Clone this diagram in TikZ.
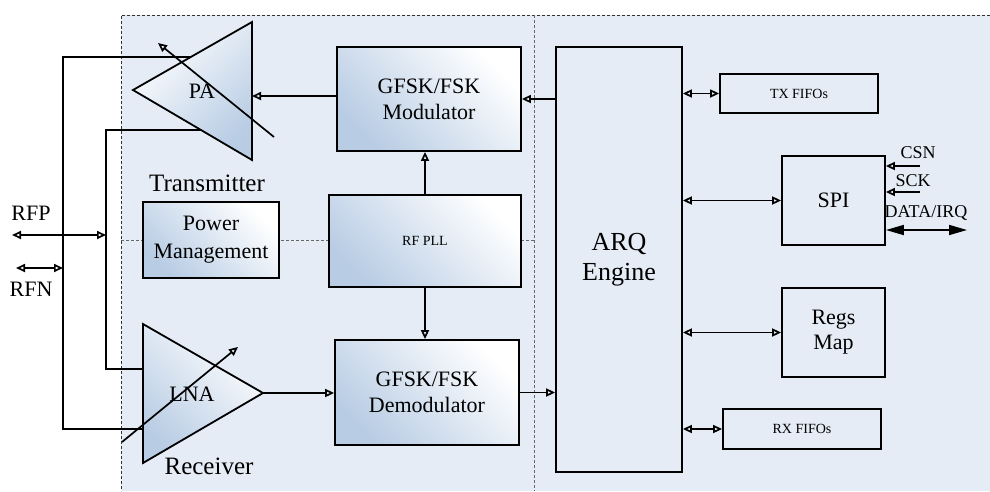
\documentclass[tikz,border=0pt]{standalone}
\usepackage{fontspec}
\setmainfont{Liberation Serif}
\usetikzlibrary{arrows.meta,calc}

\definecolor{bgblue}{RGB}{230,236,246}
\definecolor{gradblue}{RGB}{184,204,228}

\begin{document}
\begin{tikzpicture}[x=1pt,y=-1pt,
	wire/.style={line width=1.7pt},
	sig/.style={wire,-{Triangle[open,length=9pt,width=8pt]}},
	bisig/.style={wire,{Triangle[open,length=9pt,width=8pt]}-{Triangle[open,length=9pt,width=8pt]}},
	block/.style={draw,line width=1.8pt,inner sep=0pt,align=center,font=\fontsize{22}{26}\selectfont},
	shadedblock/.style={block,top color=gradblue,bottom color=white,shading angle=135},
	smalltext/.style={font=\fontsize{14}{16}\selectfont},
	label/.style={font=\fontsize{22}{26}\selectfont},
	biglabel/.style={font=\fontsize{25}{28}\selectfont},
	pinlabel/.style={font=\fontsize{18}{20}\selectfont},
	border/.style={line width=0.7pt,dash pattern=on 3pt off 2pt}]
	\useasboundingbox (0,0) rectangle (990,491);
	% chip area
	\fill [bgblue] (121,15) rectangle (990,491);
	\draw [border, black!80] (990,15) -- (121,15) -- (121,491);
	\draw [border, black!60] (534,15) -- (534,491);
	\draw [border, black!60] (121,240) -- (534,240);

	% amplifiers
	\coordinate (pa-apex) at (133,90);
	\coordinate (pa-top) at (252,22);
	\coordinate (pa-bot) at (252,160);
	\shadedraw [line width=1.8pt, top color=gradblue, bottom color=white, shading angle=-135] (pa-apex) -- (pa-top) -- (pa-bot) -- cycle;
	\node [label] (pa) at (202,91) {PA};
	\coordinate (lna-top) at (143,324);
	\coordinate (lna-bot) at (143,463);
	\coordinate (lna-apex) at (263,393);
	\shadedraw [line width=1.8pt, top color=gradblue, bottom color=white, shading angle=135] (lna-top) -- (lna-apex) -- (lna-bot) -- cycle;
	\node [label] (lna) at (192,394) {LNA};
	\coordinate (pa-gain-s) at (274,137);
	\coordinate (pa-gain-e) at (158,43);
	\draw [sig] (pa-gain-s) -- (pa-gain-e);
	\coordinate (lna-gain-s) at (122,442);
	\coordinate (lna-gain-e) at (238,347);
	\draw [sig] (lna-gain-s) -- (lna-gain-e);
	\node [biglabel] (tx) at (207,183) {Transmitter};
	\node [biglabel] (rx) at (209,466) {Receiver};

	% blocks
	\node [shadedblock, minimum width=184pt, minimum height=104pt] (mod) at (429,99) {GFSK/FSK\\Modulator};
	\node [shadedblock, minimum width=192pt, minimum height=92pt, font=\fontsize{14}{16}\selectfont] (pll) at (425,241) {RF PLL};
	\node [shadedblock, minimum width=184pt, minimum height=105pt] (demod) at (427,392.5) {GFSK/FSK\\Demodulator};
	\node [shadedblock, minimum width=136pt, minimum height=76pt, font=\fontsize{22}{28}\selectfont] (pwr) at (211,240) {Power\\Management};
	\node [block, minimum width=126pt, minimum height=425pt, font=\fontsize{26}{30}\selectfont] (arq) at (619,259.5) {ARQ\\Engine};
	\node [block, minimum width=158pt, minimum height=39pt, smalltext] (txf) at (799,93.5) {TX FIFOs};
	\node [block, minimum width=103pt, minimum height=89pt] (spi) at (833.5,200.5) {SPI};
	\node [block, minimum width=103pt, minimum height=89pt, font=\fontsize{22}{25}\selectfont] (regs) at (833.5,332.5) {Regs\\Map};
	\node [block, minimum width=158pt, minimum height=40pt, smalltext] (rxf) at (802,429) {RX FIFOs};

	% antenna wiring
	\coordinate (tap-a) at ($(pa-apex)!0.485!(pa-top)$);
	\coordinate (tap-b) at ($(pa-apex)!0.571!(pa-bot)$);
	\coordinate (rfn-tap) at (63,268);
	\coordinate (rfp-tap) at (106,235);
	\draw [wire] (tap-a) -| (rfn-tap) |- (lna-top |- 0,429);
	\draw [wire] (tap-b) -| (rfp-tap) |- (lna-top |- 0,369);
	\coordinate (rfp) at (12,235);
	\coordinate (rfn) at (16,268);
	\draw [bisig] (rfp) -- (rfp-tap);
	\draw [bisig] (rfn) -- (rfn-tap);
	\node [label] (rfp-l) at (31,213) {RFP};
	\node [label] (rfn-l) at (31,289) {RFN};

	% data path
	\draw [sig] (arq.west |- mod.east) -- (mod.east);
	\draw [sig] (mod.west |- 0,96) -- (pa-top |- 0,96);
	\draw [sig] (pll.north) -- (pll.north |- mod.south);
	\draw [sig] (pll.south) -- (pll.south |- demod.north);
	\draw [sig] (lna-apex) -- (lna-apex -| demod.west);
	\draw [sig] (demod.east) -- (demod.east -| arq.west);
	\draw [bisig] (arq.east |- txf.west) -- (txf.west);
	\draw [bisig] (arq.east |- spi.west) -- (spi.west);
	\draw [bisig] (arq.east |- regs.west) -- (regs.west);
	\draw [bisig] (arq.east |- rxf.west) -- (rxf.west);

	% host interface
	\coordinate (csn) at (920,166);
	\coordinate (sck) at (920,192);
	\coordinate (data) at (967,230);
	\draw [sig] (csn) -- (csn -| spi.east);
	\draw [sig] (sck) -- (sck -| spi.east);
	\draw [wire, {Triangle[length=18pt,width=10pt]}-{Triangle[length=18pt,width=10pt]}] (data -| spi.east) -- (data);
	\node [pinlabel] (csn-l) at (918,153) {CSN};
	\node [pinlabel] (sck-l) at (913,181) {SCK};
	\node [pinlabel] (data-l) at (926,213) {DATA/IRQ};
\end{tikzpicture}
\end{document}
